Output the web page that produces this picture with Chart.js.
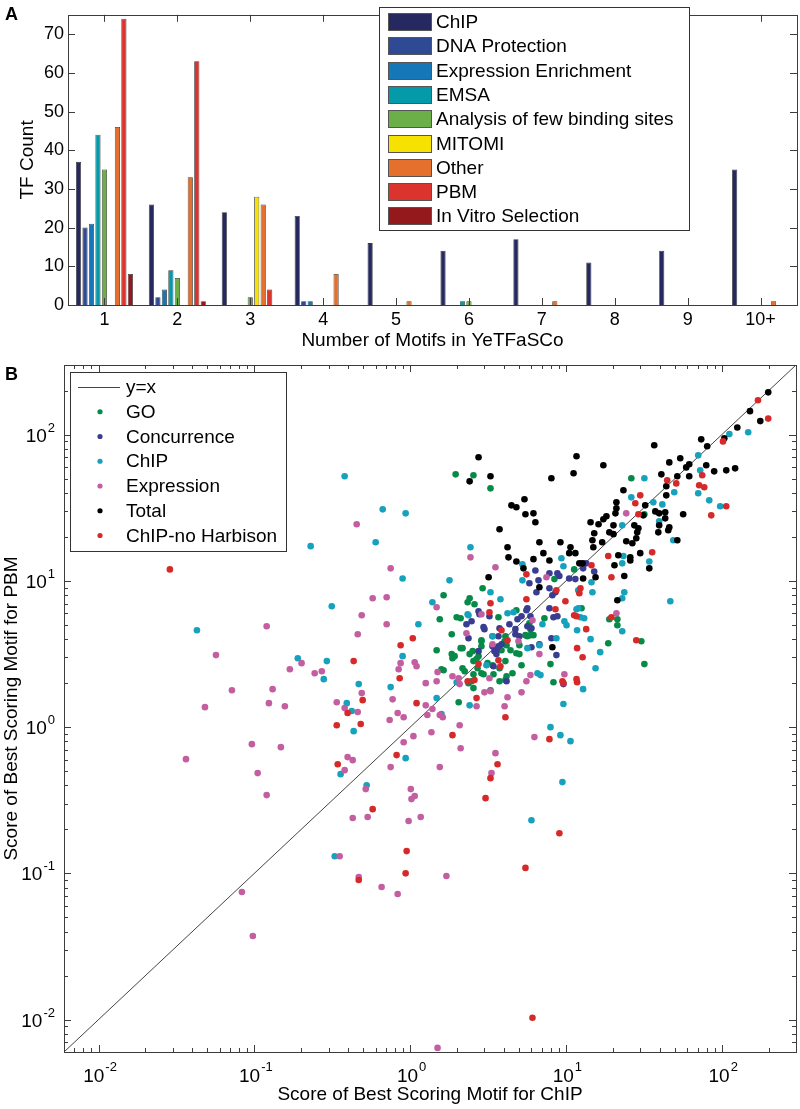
<!DOCTYPE html>
<html>
<head>
<meta charset="utf-8">
<script src="https://cdn.jsdelivr.net/npm/chart.js@4.4.1/dist/chart.umd.min.js"></script>
<style>
  body { margin: 0; background: #fff; width: 800px; height: 1109px; position: relative; overflow: hidden;
         font-family: "Liberation Sans", Arial, sans-serif; }
  .panel { position: absolute; left: 0; width: 800px; }
  #wrapA { top: 0; height: 355px; }
  #wrapB { top: 355px; height: 754px; }
  .tag { position: absolute; font-weight: bold; font-size: 18px; line-height: 20px; }
</style>
</head>
<body>
<div class="panel" id="wrapA"><canvas id="chartA" width="800" height="355"></canvas></div>
<div class="panel" id="wrapB"><canvas id="chartB" width="800" height="754"></canvas></div>
<div class="tag" style="left:5px;top:4px">A</div>
<div class="tag" style="left:5px;top:364px">B</div>
<script>
// ---------- panel A : TF count per number of motifs ----------
const motifBins = ['1', '2', '3', '4', '5', '6', '7', '8', '9', '10+'];
const methodNames = ['ChIP', 'DNA Protection', 'Expression Enrichment', 'EMSA',
  'Analysis of few binding sites', 'MITOMI', 'Other', 'PBM', 'In Vitro Selection'];
const chipCounts     = [37, 26, 24, 23, 16, 14, 17, 11, 14, 35];
const dnaProtCounts  = [20, 2, 0, 1, 0, 0, 0, 0, 0, 0];
const exprEnrCounts  = [21, 4, 0, 1, 0, 0, 0, 0, 0, 0];
const emsaCounts     = [44, 9, 0, 0, 0, 1, 0, 0, 0, 0];
const fewSiteCounts  = [35, 7, 2, 0, 0, 1, 0, 0, 0, 0];
const mitomiCounts   = [0, 0, 28, 0, 0, 0, 0, 0, 0, 0];
const otherCounts    = [46, 33, 26, 8, 1, 0, 1, 0, 0, 1];
const pbmCounts      = [74, 63, 4, 0, 0, 0, 0, 0, 0, 0];
const inVitroCounts  = [8, 1, 0, 0, 0, 0, 0, 0, 0, 0];
const countTicks = [0, 10, 20, 30, 40, 50, 60, 70];

// ---------- panel B : best motif score, ChIP (x) vs PBM (y) ----------
const goPoints = [[1.96,53.6],[2.55,52.8],[3.28,43.0],[26.3,50.4],[31.9,28.6],[11.3,12.0],[8.44,10.3],[12.6,6.51],
  [7.28,5.56],[6.19,4.26],[19.0,5.47],[21.4,5.47],[21.4,4.98],[30.5,3.87],[31.9,2.70],[18.7,3.75],[7.96,2.70],[8.32,2.03],
  [2.92,8.91],[1.64,7.98],[2.41,7.62],[2.34,7.15],[2.59,6.93],[3.69,5.65],[1.99,5.65],[2.11,5.56],[1.55,5.47],[4.81,6.31],
  [1.85,4.32],[2.87,3.93],[3.38,4.19],[4.09,4.19],[4.04,3.87],[5.50,4.26],[5.66,4.19],[5.92,4.26],[5.83,5.14],[5.92,4.68],
  [1.48,3.36],[1.85,3.16],[1.93,3.06],[1.87,2.96],[2.11,3.47],[2.17,3.47],[2.41,3.16],[2.52,3.31],[2.87,3.58],[2.87,3.87],
  [1.59,2.49],[1.64,2.45],[2.17,2.53],[2.24,2.41],[2.55,2.83],[2.67,2.92],[2.75,3.06],[2.71,2.53],[2.87,2.34],[2.96,2.30],
  [3.14,2.74],[3.38,2.65],[2.55,2.30],[2.48,2.06],[2.37,2.00],[3.43,2.30],[3.75,2.53],[4.09,2.83],[3.75,2.06],[4.09,2.10],
  [4.16,2.23],[4.54,2.34],[2.55,1.85],[3.28,1.79],[2.05,1.48],[3.86,3.36],[4.41,3.36],[4.81,3.20],[5.03,3.16],[5.19,2.65],
  [4.16,3.63],[5.03,3.63]];
const concurrencePoints = [[6.37,11.8],[7.84,11.3],[8.82,11.3],[9.08,10.8],[10.5,10.4],[11.5,10.3],[12.9,12.2],[13.5,13.2],
  [15.2,11.6],[5.83,9.64],[6.47,8.37],[7.84,8.91],[8.57,8.37],[8.19,7.98],[5.66,6.51],[5.58,6.31],[5.19,5.74],[4.89,5.47],
  [4.34,5.06],[3.75,4.75],[3.23,5.74],[2.75,6.21],[2.79,5.92],[2.48,5.30],[2.30,5.06],[2.96,4.83],[3.00,4.68],[2.37,4.06],
  [5.92,5.74],[5.66,4.90],[6.01,4.75],[7.84,6.51],[8.32,5.65],[8.82,5.74],[8.07,4.06],[8.69,3.11],[9.64,1.97],[3.69,4.19],
  [3.69,3.58],[3.86,3.69],[3.38,3.58],[3.48,3.31],[4.74,4.68],[4.74,4.32],[5.03,4.19],[6.76,3.69],[4.16,2.06],[6.67,10.1],
  [2.75,3.31],[3.58,3.16],[3.58,3.41],[3.43,2.61],[6.01,3.52]];
const chipPoints = [[0.380,52.0],[0.667,30.9],[0.230,17.3],[0.601,18.4],[0.314,6.71],[0.0428,4.60],[0.190,2.96],[0.292,2.83],
  [0.279,2.13],[0.468,1.97],[0.750,1.88],[0.392,1.46],[0.422,1.29],[0.434,0.939],[0.936,29.0],[0.895,10.4],[1.79,10.1],
  [2.44,17.0],[1.13,5.06],[0.895,3.06],[1.39,7.15],[3.28,8.37],[2.34,5.92],[9.36,14.3],[5.26,13.0],[5.26,10.1],[9.64,12.6],
  [26.3,37.3],[31.9,50.4],[49.6,40.4],[36.4,34.5],[41.6,33.4],[70.7,72.3],[72.8,57.1],[70.7,39.8],[83.2,35.6],[97.8,32.4],
  [112,101],[148,104],[48.9,19.0],[39.7,25.6],[23.0,24.0],[23.4,14.8],[23.0,13.2],[34.3,13.6],[23.7,8.37],[23.0,7.62],
  [46.8,7.26],[23.0,4.53],[3.80,7.50],[4.61,6.11],[4.22,6.02],[2.37,5.83],[14.6,9.80],[12.0,8.64],[14.8,8.37],[12.0,6.51],
  [11.7,6.41],[12.4,5.65],[13.1,5.56],[11.8,4.60],[9.78,5.30],[10.1,4.98],[8.69,4.06],[7.07,5.06],[5.66,3.47],[6.76,3.63],
  [3.38,4.19],[3.09,2.65],[1.99,2.03],[6.57,2.34],[6.87,2.27],[12.9,1.82],[9.64,1.44],[15.5,2.53],[16.6,3.26],[14.4,4.00],
  [1.59,1.23],[2.41,1.41],[1.48,1.58],[7.96,1.00],[9.22,0.882],[10.7,0.802],[0.936,0.614],[0.358,0.477],[0.526,0.401],
  [0.328,0.131],[9.50,0.421],[6.01,0.231]];
const expressionPoints = [[0.454,24.4],[0.750,12.2],[0.575,7.62],[0.707,7.74],[0.489,5.83],[0.707,5.06],[0.461,4.32],
  [0.120,4.90],[0.0567,3.11],[0.201,2.74],[0.169,2.49],[0.244,2.34],[0.271,2.41],[0.0718,1.79],[0.131,1.82],[0.0482,1.37],
  [0.124,1.46],[0.157,1.39],[0.338,1.48],[0.489,1.71],[0.772,1.55],[0.461,1.27],[0.380,1.35],[0.739,1.12],[0.832,1.25],
  [0.869,2.74],[0.844,2.49],[1.07,2.78],[1.10,2.61],[1.50,2.38],[1.26,2.00],[1.48,2.06],[0.909,1.17],[1.26,1.41],[1.29,1.21],
  [1.39,1.33],[1.55,1.21],[1.62,1.17],[1.37,0.924],[1.05,0.868],[0.909,0.789],[0.397,0.624],[0.428,0.595],[0.380,0.508],
  [0.750,0.533],[1.55,0.533],[0.519,0.377],[1.01,0.377],[1.07,0.338],[1.02,0.322],[0.428,0.239],[0.534,0.243],[0.978,0.228],
  [1.17,0.243],[0.0364,0.604],[0.0964,0.765],[0.148,0.730],[0.105,0.485],[0.120,0.343],[0.0832,0.0745],[0.0978,0.0373],
  [0.353,0.131],[0.468,0.0944],[0.656,0.0806],[0.832,0.0722],[2.11,0.718],[3.53,0.664],[3.33,0.485],[1.71,0.0959],
  [1.50,0.0064],[3.38,3.69],[6.76,3.16],[1.87,2.23],[2.05,2.16],[2.08,1.97],[3.23,2.16],[3.00,1.73],[3.28,1.76],[5.19,1.73],
  [5.92,2.27],[5.58,2.06],[9.78,2.30],[4.22,1.60],[2.67,1.39],[4.04,1.39],[2.08,1.03],[6.28,0.855],[2.44,14.5],[3.53,12.4],
  [7.50,10.6],[2.87,5.92],[2.30,4.39],[4.96,3.87],[6.10,5.39],[21.1,6.02],[24.4,29.0],[1.48,6.61]];
const totalPoints = [[2.75,70.1],[11.7,71.2],[17.4,61.8],[2.41,48.0],[3.28,52.0],[8.07,50.4],[11.2,54.5],[5.42,36.2],
  [4.47,32.9],[4.81,31.9],[5.50,28.6],[6.19,29.0],[6.37,25.2],[3.75,22.6],[21.1,34.5],[21.1,31.4],[20.8,29.0],[17.4,26.4],
  [18.2,27.7],[14.4,25.2],[16.2,24.4],[20.2,24.0],[19.0,21.5],[15.2,21.2],[20.2,20.9],[14.8,19.0],[17.1,18.4],[4.22,17.0],
  [6.76,18.4],[9.22,18.4],[10.7,17.0],[15.0,17.0],[199,195],[152,145],[177,124],[126,112],[104,94.5],[36.9,84.7],[73.9,93],
  [80.7,83.4],[46.1,64.7],[54.2,69.0],[59.2,59.8],[61.9,62.8],[79.6,61.8],[89.5,56.2],[107,57.1],[122,58.9],[41.0,53.6],
  [51.9,52.0],[61.9,52.0],[44.1,44.4],[23.4,41.7],[44.1,38.5],[32.3,32.9],[37.5,29.9],[39.7,29.0],[43.4,29.5],[43.4,26.8],
  [56.6,28.6],[31.4,28.1],[27.5,24.0],[39.7,24.0],[46.1,23.3],[45.4,22.2],[39.2,21.5],[29.2,22.9],[28.7,21.5],[28.3,19.6],
  [24.4,18.7],[26.7,18.1],[51.9,19.0],[21.7,15.0],[25.9,14.5],[25.9,13.8],[30.0,15.5],[20.5,12.8],[34.3,12.2],[23.7,10.8],
  [21.4,7.38],[4.28,14.5],[4.81,13.6],[6.19,14.1],[7.17,15.5],[7.84,13.8],[10.5,15.5],[11.5,15.5],[12.2,13.2],[12.8,13.2],
  [5.34,12.2],[3.19,10.6],[6.76,9.06],[12.9,10.4],[15.5,10.6],[8.19,3.52]];
const chipNoHarbisonPoints = [[0.0287,12.0],[0.434,2.83],[0.397,1.25],[0.482,1.05],[0.338,1.03],[0.496,1.53],[0.869,3.63],
  [0.857,2.16],[1.10,1.46],[0.343,0.558],[0.819,0.644],[0.575,0.275],[0.468,0.0900],[3.64,0.558],[3.28,0.448],[3.05,0.327],
  [0.950,0.142],[0.936,0.100],[5.50,0.109],[9.08,0.188],[6.10,0.0103],[11.8,3.47],[12.8,3.01],[3.80,2.61],[3.69,2.87],
  [2.75,2.70],[2.59,2.10],[2.67,1.58],[4.09,1.17],[9.50,2.06],[9.64,2.00],[11.7,2.13],[11.8,2.03],[7.84,0.828],[1.87,0.882],
  [3.28,7.04],[3.23,6.11],[3.86,4.60],[4.22,3.93],[5.58,7.50],[5.58,11.1],[8.57,6.41],[8.69,8.64],[9.93,7.26],[11.3,5.83],
  [11.7,5.74],[12.2,8.24],[13.5,4.68],[19.6,5.65],[18.7,14.8],[19.6,10.6],[2.34,2.06],[35.8,15.7],[28.3,3.93],[171,172],
  [199,129],[102,90.1],[44.7,48.8],[51.1,46.5],[30.0,38.5],[27.9,34.0],[29.2,28.6],[75.0,52.8],[71.7,45.1],[77.3,43.7],
  [107,32.4],[85.7,28.1],[14.6,12.8],[12.4,8.91],[1.04,4.06]];
const scoreRange = [0.006, 300];
const scoreTicks = [0.01, 0.1, 1, 10, 100];
const scoreExponents = ['-2', '-1', '0', '1', '2'];

// ---------- shared style ----------
const FONT = '"Liberation Sans", Arial, sans-serif';
const AXIS_GREY = '#3c3c3c';
const methodColors = ['#25295f', '#2e4a94', '#1677b8', '#049aa9', '#6cae47', '#f5e200', '#e5702e', '#db332e', '#94191d'];

function line(ctx, x1, y1, x2, y2) {
  ctx.moveTo(x1, y1);
  ctx.lineTo(x2, y2);
}

// frame + inward tick marks for the bar panel
const framePluginA = {
  id: 'frameA',
  afterDatasetsDraw(chart) {
    const { ctx, chartArea: a } = chart;
    const xs = chart.scales.x, ys = chart.scales.y;
    ctx.save();
    ctx.strokeStyle = AXIS_GREY;
    ctx.lineWidth = 1;
    ctx.beginPath();
    countTicks.forEach(v => {
      const y = Math.round(ys.getPixelForValue(v)) + 0.5;
      line(ctx, a.left, y, a.left + 7, y);
      line(ctx, a.right, y, a.right - 7, y);
    });
    motifBins.forEach((b, i) => {
      const x = Math.round(xs.getPixelForTick(i)) + 0.5;
      line(ctx, x, a.top, x, a.top + 7);
      line(ctx, x, a.bottom, x, a.bottom - 7);
    });
    ctx.stroke();
    ctx.strokeRect(Math.round(a.left) + 0.5, Math.round(a.top) + 0.5,
      Math.round(a.right - a.left), Math.round(a.bottom - a.top));
    ctx.restore();
  }
};

const legendPluginA = {
  id: 'legendA',
  afterDraw(chart) {
    const ctx = chart.ctx;
    ctx.save();
    ctx.fillStyle = '#fff';
    ctx.fillRect(379, 7, 310, 223);
    ctx.strokeStyle = '#333';
    ctx.lineWidth = 1;
    ctx.strokeRect(379.5, 7.5, 310, 223);
    ctx.font = '19px ' + FONT;
    ctx.textBaseline = 'middle';
    chart.data.datasets.forEach((ds, i) => {
      const cy = Math.round(22 + i * 24.3);
      ctx.fillStyle = ds.backgroundColor;
      ctx.fillRect(388, cy - 9, 44, 18);
      ctx.strokeStyle = '#555';
      ctx.strokeRect(388.5, cy - 8.5, 43, 17);
      ctx.fillStyle = '#000';
      ctx.fillText(ds.label, 436, cy + 1);
    });
    ctx.restore();
  }
};

const methodSeries = [chipCounts, dnaProtCounts, exprEnrCounts, emsaCounts, fewSiteCounts,
  mitomiCounts, otherCounts, pbmCounts, inVitroCounts];

new Chart(document.getElementById('chartA'), {
  type: 'bar',
  data: {
    labels: motifBins,
    datasets: methodSeries.map((vals, i) => ({
      label: methodNames[i],
      data: vals,
      backgroundColor: methodColors[i],
      borderColor: '#3a3a3a',
      borderWidth: c => (c.raw ? 0.8 : 0),
      categoryPercentage: 0.8,
      barPercentage: 0.8
    }))
  },
  options: {
    responsive: false,
    animation: false,
    layout: { padding: { top: 3, right: 3, left: 0, bottom: 0 } },
    plugins: { legend: { display: false }, tooltip: { enabled: false } },
    scales: {
      x: {
        grid: { display: false, drawTicks: false },
        border: { display: false },
        ticks: { color: '#000', font: { family: FONT, size: 18 }, padding: 4, maxRotation: 0 },
        title: { display: true, text: 'Number of Motifs in YeTFaSCo', color: '#000',
                 font: { family: FONT, size: 19 }, padding: { top: 0, bottom: 3 } },
        afterFit: s => { s.height = 50; }
      },
      y: {
        min: 0, max: 75,
        grid: { display: false, drawTicks: false },
        border: { display: false },
        afterBuildTicks: s => { s.ticks = countTicks.map(v => ({ value: v })); },
        ticks: { color: '#000', font: { family: FONT, size: 18 }, padding: 4 },
        title: { display: true, text: 'TF Count', color: '#000',
                 font: { family: FONT, size: 19 }, padding: { top: 16, bottom: 0 } },
        afterFit: s => { s.width = 68; }
      }
    }
  },
  plugins: [framePluginA, legendPluginA]
});

// ---------- panel B ----------
const scatterNames = ['GO', 'Concurrence', 'ChIP', 'Expression', 'Total', 'ChIP-no Harbison'];
const scatterColors = ['#078a47', '#383d92', '#16a2bd', '#c35fa0', '#000000', '#d62a2a'];
const scatterSeries = [goPoints, concurrencePoints, chipPoints, expressionPoints, totalPoints, chipNoHarbisonPoints];

const framePluginB = {
  id: 'frameB',
  afterDatasetsDraw(chart) {
    const { ctx, chartArea: a } = chart;
    const xs = chart.scales.x, ys = chart.scales.y;
    ctx.save();
    ctx.strokeStyle = AXIS_GREY;
    ctx.lineWidth = 1;
    ctx.beginPath();
    for (let e = -3; e <= 2; e++) {
      for (let k = 1; k <= 9; k++) {
        const v = k * Math.pow(10, e);
        if (v < scoreRange[0] || v > scoreRange[1]) continue;
        const len = k === 1 ? 7 : 4;
        const x = Math.round(xs.getPixelForValue(v)) + 0.5;
        line(ctx, x, a.bottom, x, a.bottom - len);
        line(ctx, x, a.top, x, a.top + len);
        const y = Math.round(ys.getPixelForValue(v)) + 0.5;
        line(ctx, a.left, y, a.left + len, y);
        line(ctx, a.right, y, a.right - len, y);
      }
    }
    ctx.stroke();
    ctx.strokeRect(Math.round(a.left) + 0.5, Math.round(a.top) + 0.5,
      Math.round(a.right - a.left), Math.round(a.bottom - a.top));

    // power-of-ten tick labels
    ctx.fillStyle = '#000';
    ctx.textBaseline = 'alphabetic';
    ctx.textAlign = 'left';
    const big = '19px ' + FONT, small = '13px ' + FONT;
    scoreTicks.forEach((v, i) => {
      const exp = scoreExponents[i];
      ctx.font = big;
      const wb = ctx.measureText('10').width;
      ctx.font = small;
      const we = ctx.measureText(exp).width;
      // x axis
      const px = xs.getPixelForValue(v);
      const x0 = px - (wb + we) / 2 + 1;
      ctx.font = big;
      ctx.fillText('10', x0, a.bottom + 30);
      ctx.font = small;
      ctx.fillText(exp, x0 + wb + 1, a.bottom + 19);
      // y axis
      const py = ys.getPixelForValue(v);
      const xr = a.left - 9;
      ctx.font = small;
      ctx.fillText(exp, xr - we, py - 3);
      ctx.font = big;
      ctx.fillText('10', xr - we - wb - 1, py + 7);
    });
    ctx.restore();
  }
};

const legendPluginB = {
  id: 'legendB',
  afterDraw(chart) {
    const ctx = chart.ctx;
    ctx.save();
    ctx.fillStyle = '#fff';
    ctx.fillRect(70, 17, 216, 179);
    ctx.strokeStyle = '#333';
    ctx.lineWidth = 1;
    ctx.strokeRect(70.5, 17.5, 216, 179);
    ctx.font = '19px ' + FONT;
    ctx.textBaseline = 'middle';
    chart.data.datasets.forEach((ds, i) => {
      const cy = 32 + i * 24.75;
      if (ds.type === 'line') {
        ctx.strokeStyle = ds.borderColor;
        ctx.beginPath();
        line(ctx, 78, Math.round(cy) + 0.5, 120, Math.round(cy) + 0.5);
        ctx.stroke();
      } else {
        ctx.fillStyle = ds.backgroundColor;
        ctx.beginPath();
        ctx.arc(100, cy, 2.6, 0, Math.PI * 2);
        ctx.fill();
      }
      ctx.fillStyle = '#000';
      ctx.fillText(ds.label, 126, cy + 1);
    });
    ctx.restore();
  }
};

const bDatasets = [{
  type: 'line',
  label: 'y=x',
  data: [{ x: scoreRange[0], y: scoreRange[0] }, { x: scoreRange[1], y: scoreRange[1] }],
  borderColor: '#444',
  borderWidth: 1,
  pointRadius: 0,
  order: 10
}].concat(scatterSeries.map((pts, i) => ({
  label: scatterNames[i],
  data: pts.map(p => ({ x: p[0], y: p[1] })),
  backgroundColor: scatterColors[i],
  borderWidth: 0,
  pointRadius: 3.3,
  order: 6 - i
})));

new Chart(document.getElementById('chartB'), {
  type: 'scatter',
  data: { datasets: bDatasets },
  options: {
    responsive: false,
    animation: false,
    layout: { padding: { top: 10, right: 3, left: 0, bottom: 0 } },
    plugins: { legend: { display: false }, tooltip: { enabled: false } },
    scales: {
      x: {
        type: 'logarithmic',
        min: scoreRange[0], max: scoreRange[1],
        grid: { display: false, drawTicks: false },
        border: { display: false },
        ticks: { display: false },
        title: { display: true, text: 'Score of Best Scoring Motif for ChIP', color: '#000',
                 font: { family: FONT, size: 19 }, padding: { top: 0, bottom: 3 } },
        afterFit: s => { s.height = 57; }
      },
      y: {
        type: 'logarithmic',
        min: scoreRange[0], max: scoreRange[1],
        grid: { display: false, drawTicks: false },
        border: { display: false },
        ticks: { display: false },
        title: { display: true, text: 'Score of Best Scoring Motif for PBM', color: '#000',
                 font: { family: FONT, size: 19 }, padding: { top: 0, bottom: 0 } },
        afterFit: s => { s.width = 64; }
      }
    }
  },
  plugins: [framePluginB, legendPluginB]
});
</script>
</body>
</html>
